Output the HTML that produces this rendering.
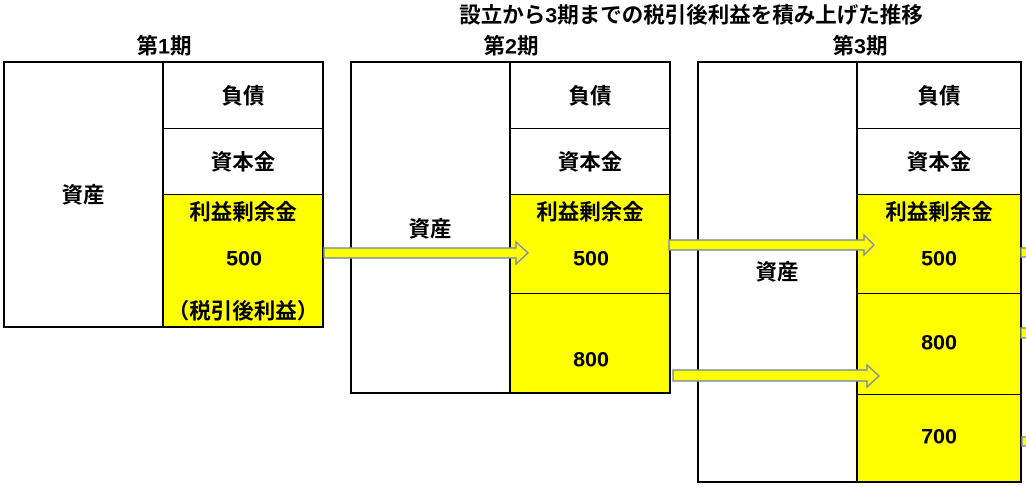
<!DOCTYPE html><html><head><meta charset="utf-8"><style>
body{margin:0;width:1026px;height:487px;background:#fff;position:relative;overflow:hidden;font-family:"Liberation Sans","Noto Sans CJK JP",sans-serif;font-weight:bold;font-size:21.5px;color:#000}
.a{position:absolute}
.t{position:absolute;transform:translate(-50%,-50%);white-space:nowrap}
.box{position:absolute;border:2px solid #000;box-sizing:border-box}
.l{position:absolute;background:#000}
.y{position:absolute;background:#ffff00}
</style></head><body>
<div class="t" style="left:691px;top:14px">設立から3期までの税引後利益を積み上げた推移</div>
<div class="t" style="left:164px;top:45px">第1期</div>
<div class="t" style="left:511px;top:45px">第2期</div>
<div class="t" style="left:860px;top:45px">第3期</div>

<div class="y" style="left:163px;top:194px;width:160px;height:133px"></div>
<div class="y" style="left:510px;top:194px;width:160px;height:199px"></div>
<div class="y" style="left:857px;top:194px;width:164px;height:288px"></div>

<div class="box" style="left:3px;top:61px;width:321px;height:267px"></div>
<div class="l" style="left:162px;top:61px;width:2px;height:266px"></div>
<div class="l" style="left:163px;top:128px;width:160px;height:1px"></div>
<div class="l" style="left:163px;top:194px;width:160px;height:1px"></div>

<div class="box" style="left:350px;top:61px;width:321px;height:333px"></div>
<div class="l" style="left:509px;top:61px;width:2px;height:332px"></div>
<div class="l" style="left:510px;top:128px;width:160px;height:1px"></div>
<div class="l" style="left:510px;top:194px;width:160px;height:1px"></div>
<div class="l" style="left:510px;top:293px;width:160px;height:1px"></div>

<div class="box" style="left:697px;top:61px;width:325px;height:422px"></div>
<div class="l" style="left:856px;top:61px;width:2px;height:421px"></div>
<div class="l" style="left:857px;top:128px;width:164px;height:1px"></div>
<div class="l" style="left:857px;top:194px;width:164px;height:1px"></div>
<div class="l" style="left:857px;top:293px;width:164px;height:1px"></div>
<div class="l" style="left:857px;top:394px;width:164px;height:1px"></div>

<div class="t" style="left:83px;top:194px">資産</div>
<div class="t" style="left:243px;top:95px">負債</div>
<div class="t" style="left:243px;top:161px">資本金</div>
<div class="t" style="left:243px;top:211px">利益剰余金</div>
<div class="t" style="left:244px;top:259px">500</div>
<div class="t" style="left:243px;top:310px">（税引後利益）</div>

<div class="t" style="left:430px;top:228px">資産</div>
<div class="t" style="left:590px;top:95px">負債</div>
<div class="t" style="left:590px;top:161px">資本金</div>
<div class="t" style="left:590px;top:211px">利益剰余金</div>
<div class="t" style="left:591px;top:259px">500</div>
<div class="t" style="left:591px;top:360px">800</div>

<div class="t" style="left:777px;top:271px">資産</div>
<div class="t" style="left:939px;top:95px">負債</div>
<div class="t" style="left:939px;top:161px">資本金</div>
<div class="t" style="left:939px;top:211px">利益剰余金</div>
<div class="t" style="left:939px;top:259px">500</div>
<div class="t" style="left:939px;top:343px">800</div>
<div class="t" style="left:939px;top:437px">700</div>

<svg class="a" style="left:0;top:0" width="1026" height="487">
<g fill="#ffff00" stroke="#8090a0" stroke-width="1.5">
<path d="M324 248 H516 V242 L528 253 L516 264 V258 H324 Z"/>
<path d="M669 240 H864 V235 L874 245 L864 255 V250 H669 Z"/>
<path d="M673 370 H867 V365 L879 376 L867 387 V381 H673 Z"/>
<rect x="1021" y="248" width="6" height="9"/>
<rect x="1021" y="328" width="6" height="10"/>
<rect x="1022" y="437" width="6" height="9"/>
</g>
</svg>
</body></html>
